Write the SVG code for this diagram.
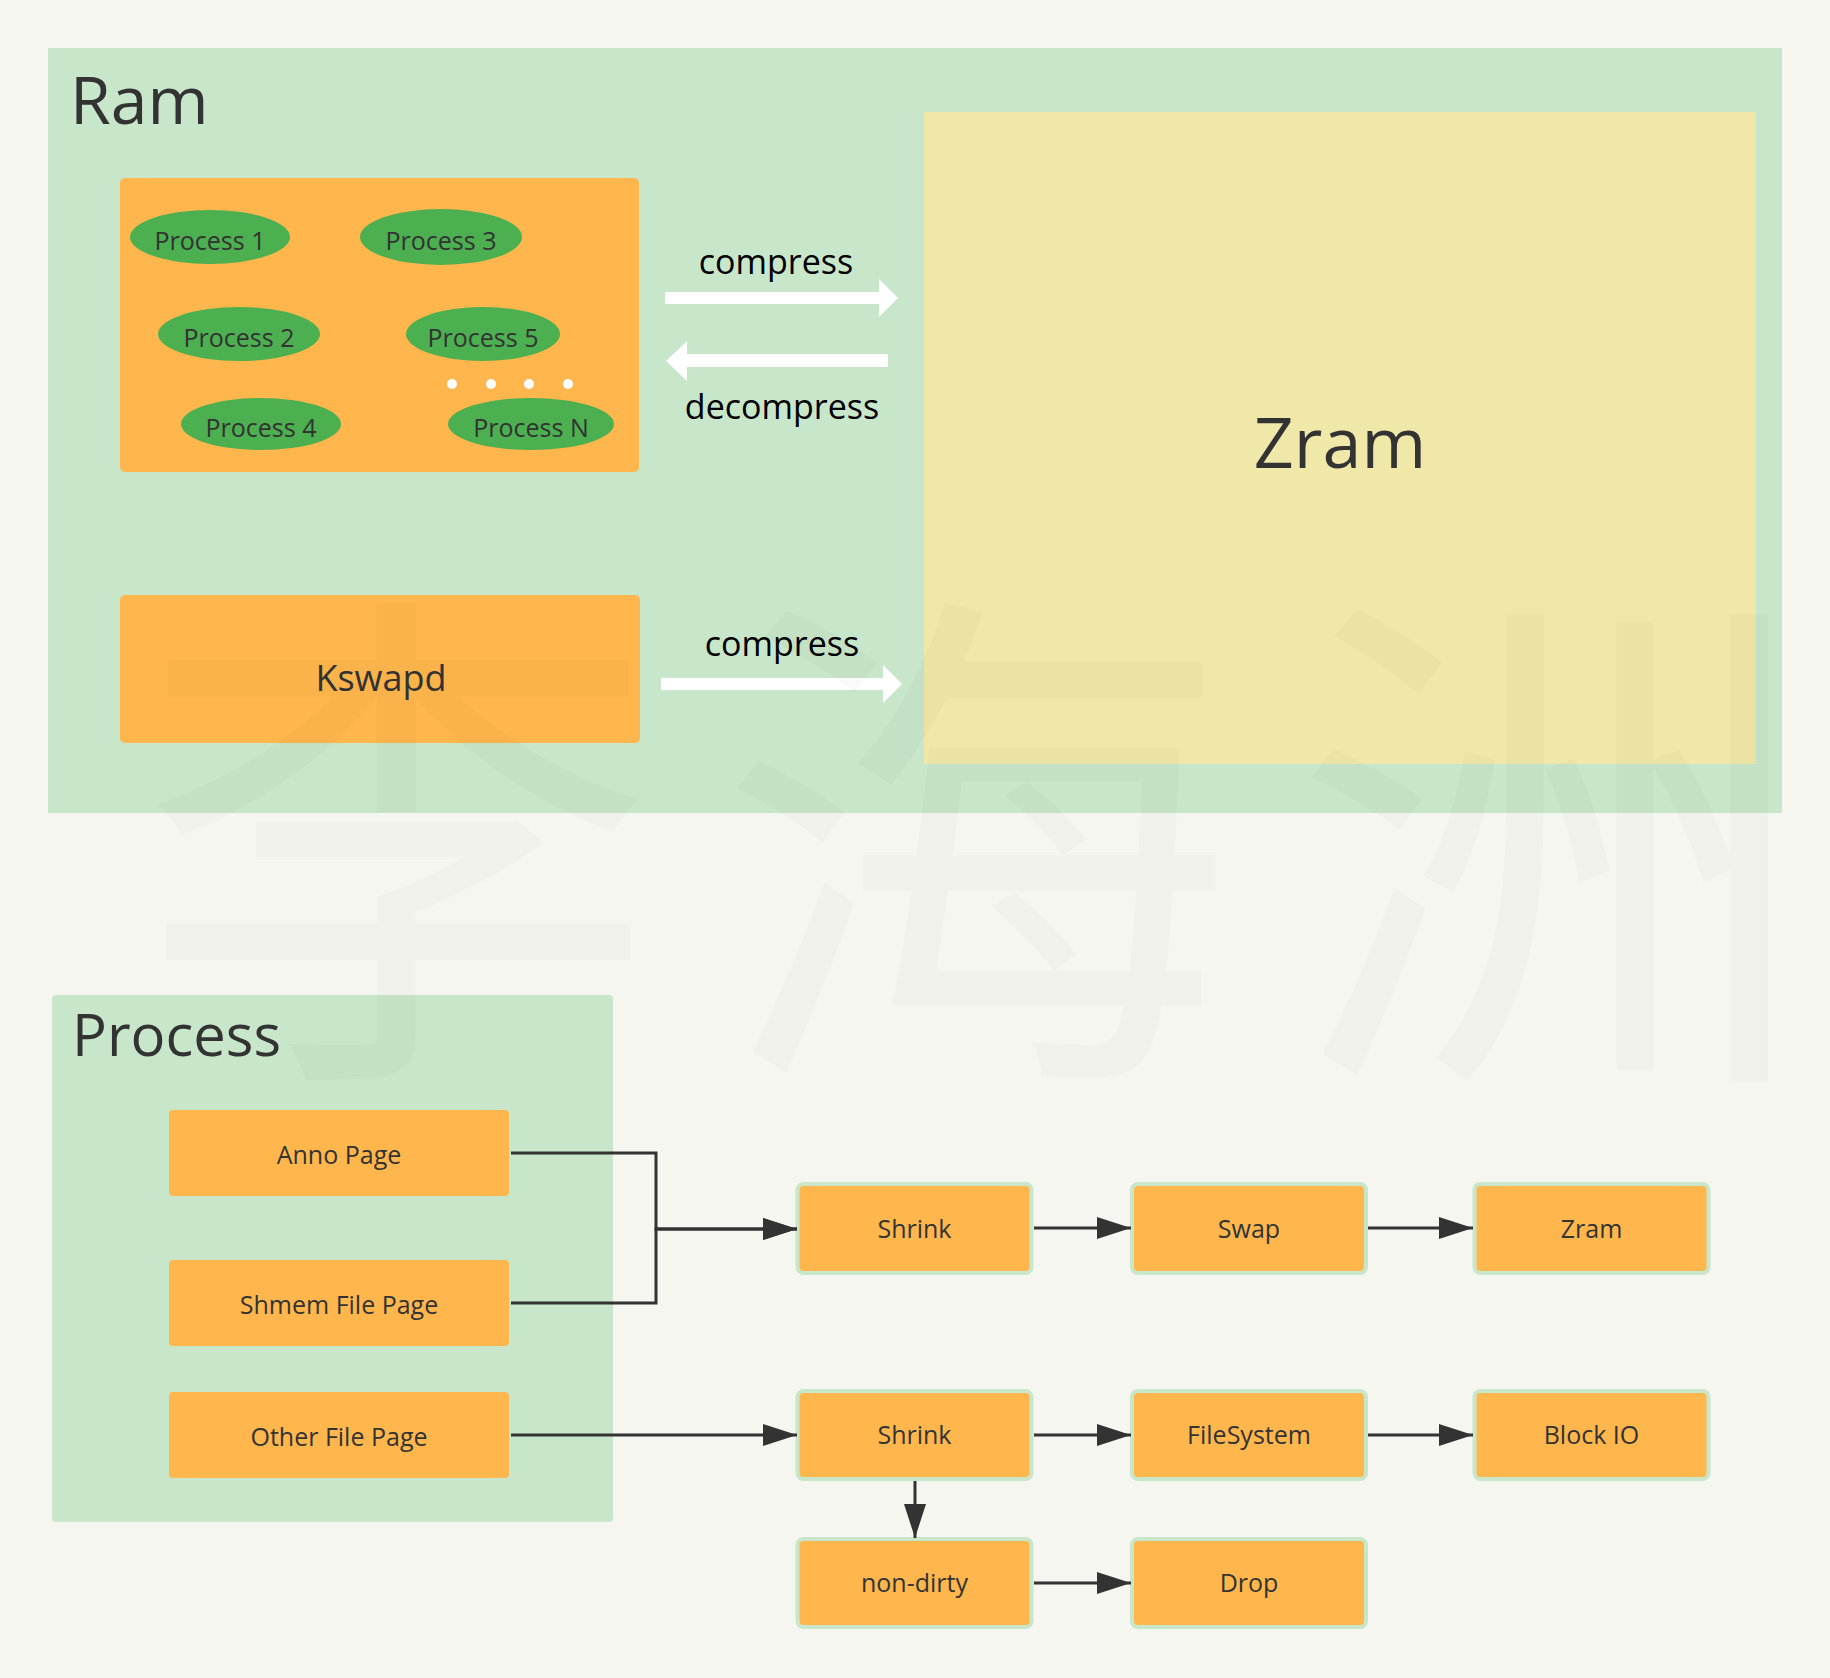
<svg xmlns="http://www.w3.org/2000/svg" width="1830" height="1678" viewBox="0 0 1830 1678">
<style>
.bg{fill:#f5f6f0}
.cont{fill:#c8e6c9}
.box{fill:#ffb74d}
.node{fill:#ffb74d;stroke:#c8e6c9;stroke-width:4}
.ell{fill:#4caf50}
.title{font-family:"Comic Sans MS","Open Sans","Noto Sans",sans-serif;fill:#333}
.lbl{font-family:"Comic Sans MS","Open Sans","Noto Sans",sans-serif;fill:#333;font-size:25px;text-anchor:middle}
.pl{font-family:"Open Sans","Noto Sans",sans-serif;fill:#333;font-size:25px;text-anchor:middle}
.al{font-family:"Open Sans","Noto Sans",sans-serif;fill:#000;font-size:34px;text-anchor:middle}
.blk{fill:#fff}
.edge{fill:none;stroke:#333;stroke-width:3}
.wm{font-family:"Noto Sans CJK SC",sans-serif;font-size:520px;fill:#000;fill-opacity:0.018;text-anchor:middle}
</style>
<defs>
<marker id="ah" markerUnits="userSpaceOnUse" markerWidth="34" markerHeight="22" refX="34" refY="11" orient="auto">
<path d="M0,0 L34,11 L0,22 z" fill="#333"/>
</marker>
</defs>
<rect class="bg" x="0" y="0" width="1830" height="1678"/>

<g id="ram">
<rect class="cont" x="48" y="48" width="1734" height="765"/>
<text class="title" x="70" y="124" font-size="66">Ram</text>
</g>

<g id="processes">
<rect class="box" x="120" y="178" width="519" height="294" rx="5"/>
<g id="p1"><ellipse class="ell" cx="210" cy="237" rx="80" ry="27"/><text class="pl" x="210" y="250">Process 1</text></g>
<g id="p3"><ellipse class="ell" cx="441" cy="237" rx="81" ry="28"/><text class="pl" x="441" y="250">Process 3</text></g>
<g id="p2"><ellipse class="ell" cx="239" cy="334" rx="81" ry="27"/><text class="pl" x="239" y="347">Process 2</text></g>
<g id="p5"><ellipse class="ell" cx="483" cy="334" rx="77" ry="27"/><text class="pl" x="483" y="347">Process 5</text></g>
<g id="p4"><ellipse class="ell" cx="261" cy="424" rx="80" ry="26"/><text class="pl" x="261" y="437">Process 4</text></g>
<g id="pn"><ellipse class="ell" cx="531" cy="424" rx="83" ry="26"/><text class="pl" x="531" y="437">Process N</text></g>
<g id="dots" fill="#fff">
<circle cx="452" cy="384" r="5"/><circle cx="491" cy="384" r="5"/><circle cx="529" cy="384" r="5"/><circle cx="568" cy="384" r="5"/>
</g>
</g>

<g id="kswapd">
<rect class="box" x="120" y="595" width="520" height="148" rx="5"/>
<text class="title" x="381" y="691" font-size="36" text-anchor="middle">Kswapd</text>
</g>

<g id="zram-big">
<rect x="924" y="112" width="832" height="652" fill="#f0e8a8"/>
<text class="title" x="1340" y="468" font-size="70" text-anchor="middle">Zram</text>
</g>

<g id="block-arrows">
<polygon class="blk" points="665,292 879,292 879,279 898,298 879,317 879,304 665,304"/>
<text class="al" x="776" y="274">compress</text>
<polygon class="blk" points="888,354 687,354 687,341 666,361 687,381 687,367 888,367"/>
<text class="al" x="782" y="419">decompress</text>
<polygon class="blk" points="661,678 883,678 883,665 902,684 883,703 883,690 661,690"/>
<text class="al" x="782" y="656">compress</text>
</g>

<g id="process">
<rect class="cont" x="52" y="995" width="561" height="527" rx="4"/>
<text class="title" x="72" y="1056" font-size="58">Process</text>
</g>
<g id="anno"><rect class="box" x="169" y="1110" width="340" height="86" rx="4"/><text class="lbl" x="339" y="1164">Anno Page</text></g>
<g id="shmem"><rect class="box" x="169" y="1260" width="340" height="86" rx="4"/><text class="lbl" x="339" y="1314">Shmem File Page</text></g>
<g id="other"><rect class="box" x="169" y="1392" width="340" height="86" rx="4"/><text class="lbl" x="339" y="1446">Other File Page</text></g>

<g id="shrink1"><rect class="node" x="797.5" y="1184" width="234" height="89" rx="6"/><text class="lbl" x="914.5" y="1238">Shrink</text></g>
<g id="swap"><rect class="node" x="1132" y="1184" width="234" height="89" rx="6"/><text class="lbl" x="1249" y="1238">Swap</text></g>
<g id="zram"><rect class="node" x="1474.5" y="1184" width="234" height="89" rx="6"/><text class="lbl" x="1591.5" y="1238">Zram</text></g>
<g id="shrink2"><rect class="node" x="797.5" y="1391" width="234" height="88" rx="6"/><text class="lbl" x="914.5" y="1444">Shrink</text></g>
<g id="filesystem"><rect class="node" x="1132" y="1391" width="234" height="88" rx="6"/><text class="lbl" x="1249" y="1444">FileSystem</text></g>
<g id="blockio"><rect class="node" x="1474.5" y="1391" width="234" height="88" rx="6"/><text class="lbl" x="1591.5" y="1444">Block IO</text></g>
<g id="nondirty"><rect class="node" x="797.5" y="1539" width="234" height="88" rx="6"/><text class="lbl" x="914.5" y="1592">non-dirty</text></g>
<g id="drop"><rect class="node" x="1132" y="1539" width="234" height="88" rx="6"/><text class="lbl" x="1249" y="1592">Drop</text></g>

<g id="connectors">
<path class="edge" d="M511,1153 H656 V1229 H797" marker-end="url(#ah)"/>
<path class="edge" d="M511,1303 H656 V1229 H797" marker-end="url(#ah)"/>
<path class="edge" d="M511,1435 H797" marker-end="url(#ah)"/>
<path class="edge" d="M1034,1228 H1131" marker-end="url(#ah)"/>
<path class="edge" d="M1368,1228 H1473" marker-end="url(#ah)"/>
<path class="edge" d="M1034,1435 H1131" marker-end="url(#ah)"/>
<path class="edge" d="M1368,1435 H1473" marker-end="url(#ah)"/>
<path class="edge" d="M915,1481 V1538" marker-end="url(#ah)"/>
<path class="edge" d="M1034,1583 H1131" marker-end="url(#ah)"/>
</g>

<g id="watermark">
<text class="wm" x="398" y="1040">李</text>
<text class="wm" x="975" y="1040">海</text>
<text class="wm" x="1552" y="1040">洲</text>
</g>
</svg>
